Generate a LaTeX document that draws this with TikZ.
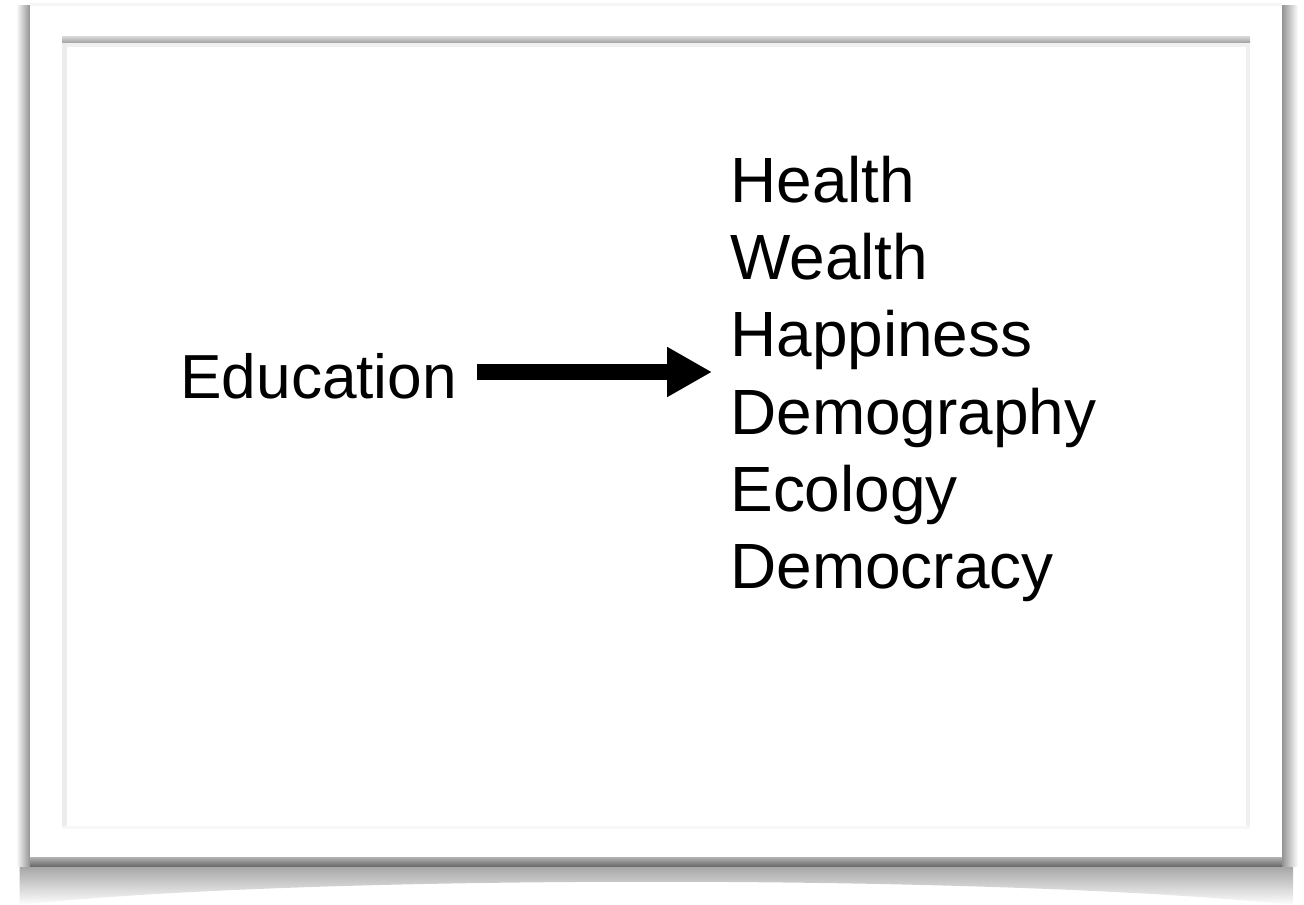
\documentclass[tikz,border=0pt]{standalone}
\usepackage{fontspec}
\setmainfont{Liberation Sans}
\usepackage{tikz}
\usetikzlibrary{arrows.meta}
\usetikzlibrary{positioning}
\usetikzlibrary{fadings}
\tikzset{word/.style = {anchor=base west, inner sep=0pt,
                        font=\fontsize{36.4}{44}\selectfont},
         bigarrow/.style = {line width=0.34cm,
                            -{Triangle[length=0.9cm, width=0.94cm]}}}

\begin{document}
\begin{tikzpicture}[x=0.02cm, y=-0.02cm]
    \useasboundingbox (0, 0) rectangle (1304, 905);
    \fill [white] (0, 0) rectangle (1304, 905);

    % card and its shadow
    \fill [black, opacity=0.5, path fading=south] (20, 850) -- (20, 905)
      .. controls (300, 874) and (1000, 874) .. (1294, 905) -- (1294, 850) -- cycle;
    \shade [left color=white, right color=gray!85] (16, 6) rectangle (30, 866);
    \shade [left color=gray!85, right color=white] (1282, 6) rectangle (1298, 866);
    \fill [gray!8] (30, 3) rectangle (1282, 8);
    \fill [white] (30, 6) rectangle (1282, 858);
    \shade [top color=gray!60, bottom color=gray!85!black] (30, 857) rectangle (1282, 866);

    % inner frame
    \shade [top color=gray!35, bottom color=gray!75] (62, 37) rectangle (1250, 43);
    \fill [gray!12] (62, 43) rectangle (1250, 47);
    \fill [gray!15] (62, 43) rectangle (67, 828);
    \fill [gray!12] (1246, 43) rectangle (1250, 828);
    \fill [gray!6] (62, 826) rectangle (1250, 829);

    \node [word, font=\fontsize{35.4}{44}\selectfont] (edu) at (180, 398) {Education};
    \foreach \w [count=\i] in {Health, Wealth, Happiness, Demography, Ecology, Democracy} {
      \node [word] (item\i) at (730, {126 + 77 * \i}) {\w};
    }
    \coordinate (tip) at (712, 372);
    \coordinate (tail) at ([xshift=0.4cm]edu.east |- tip);
    \draw [bigarrow] (tail) -- (tip);
\end{tikzpicture}
\end{document}
